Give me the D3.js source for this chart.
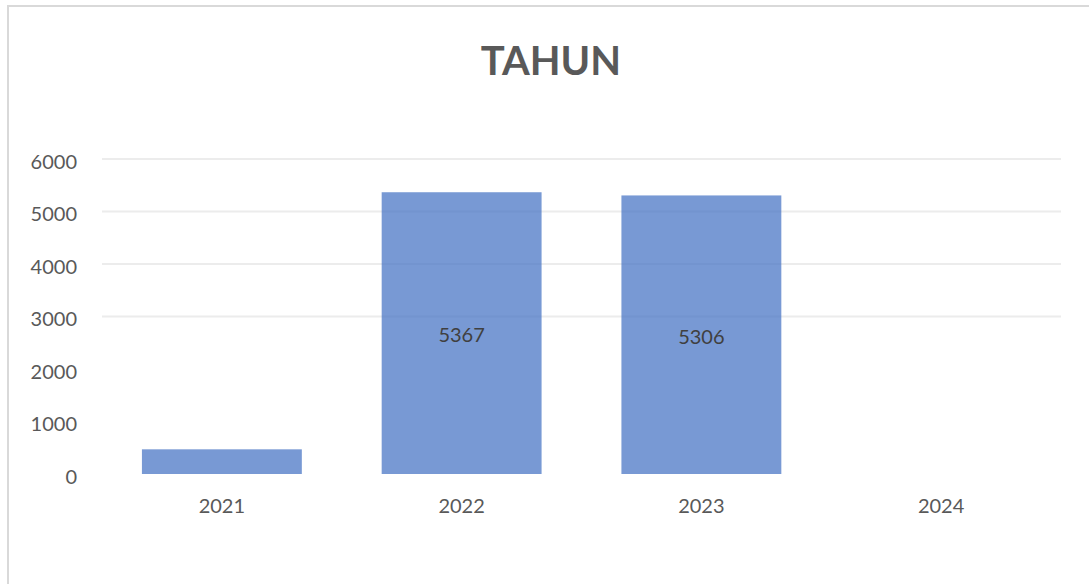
<!DOCTYPE html>
<html>
<head>
<meta charset="utf-8">
<script src="https://cdn.jsdelivr.net/npm/d3@7"></script>
<style>
    body { margin: 0; background: #fff; }
    svg text { font-family: Lato, "Open Sans", sans-serif; }
</style>
</head>
<body>
<div id="chart"></div>
<script>
// data
const categories = ["2021", "2022", "2023", "2024"];
const values = [470, 5367, 5306, 0];
const dataLabels = [null, "5367", "5306", null];
const yTicks = [0, 1000, 2000, 3000, 4000, 5000, 6000];
// only the upper gridlines show in the reference
const gridValues = [3000, 4000, 5000, 6000];

const width = 1089, height = 584;
const margin = {left: 102, right: 28, top: 159, bottom: 110};

const svg = d3.select("#chart").append("svg")
    .attr("width", width)
    .attr("height", height);

// chart frame
svg.append("rect")
    .attr("x", 8)
    .attr("y", 6)
    .attr("width", width)
    .attr("height", height)
    .attr("fill", "#fff")
    .attr("stroke", "#d9d9d9")
    .attr("stroke-width", 2);

svg.append("text")
    .attr("x", 551)
    .attr("y", 75)
    .attr("text-anchor", "middle")
    .attr("font-family", "'Open Sans', sans-serif")
    .attr("font-size", 40)
    .attr("font-weight", "bold")
    .attr("fill", "#595959")
    .text("TAHUN");

let x = d3.scaleBand()
    .domain(categories)
    .range([margin.left, width - margin.right])
    .paddingInner(0.333)
    .paddingOuter(0.1665);

let y = d3.scaleLinear()
    .domain([0, 6000])
    .range([height - margin.bottom, margin.top]);

// gridlines
svg.append("g")
    .selectAll("line")
    .data(gridValues)
    .enter()
    .append("line")
    .attr("x1", margin.left)
    .attr("x2", width - margin.right)
    .attr("y1", d => y(d))
    .attr("y2", d => y(d))
    .attr("stroke", "#ececec")
    .attr("stroke-width", 2);

// y axis labels
let yAxis = svg.append("g")
    .attr("transform", "translate(77,0)")
    .call(d3.axisLeft(y).tickValues(yTicks).tickSize(0).tickPadding(0).tickFormat(d3.format("d")));
yAxis.select(".domain").remove();
yAxis.selectAll("text")
    .attr("font-size", 20)
    .attr("fill", "#595959")
    .attr("dy", "0.45em");

// x axis labels
let xAxis = svg.append("g")
    .attr("transform", "translate(0," + (height - margin.bottom) + ")")
    .call(d3.axisBottom(x).tickSize(0).tickPadding(25));
xAxis.select(".domain").remove();
xAxis.selectAll("text")
    .attr("font-size", 20)
    .attr("fill", "#595959");

// bars
svg.append("g")
    .selectAll("rect")
    .data(values)
    .enter()
    .append("rect")
    .attr("x", (d, i) => x(categories[i]))
    .attr("y", d => y(d))
    .attr("width", x.bandwidth())
    .attr("height", d => y(0) - y(d))
    .attr("fill", "#4472c4")
    .attr("fill-opacity", 0.72);

// labels in the middle of the bars
let labelData = values
    .map((v, i) => ({cat: categories[i], value: v, label: dataLabels[i]}))
    .filter(d => d.label !== null);

svg.append("g")
    .selectAll("text")
    .data(labelData)
    .enter()
    .append("text")
    .attr("x", d => x(d.cat) + x.bandwidth() / 2)
    .attr("y", d => (y(d.value) + y(0)) / 2)
    .attr("dy", "0.45em")
    .attr("text-anchor", "middle")
    .attr("font-size", 20)
    .attr("fill", "#404040")
    .text(d => d.label);
</script>
</body>
</html>
